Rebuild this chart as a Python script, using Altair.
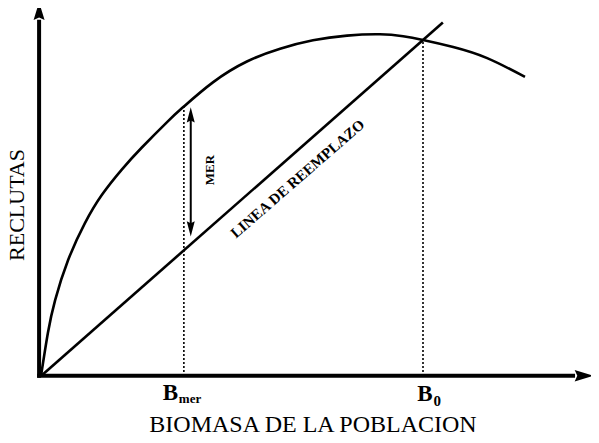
import altair as alt
import pandas as pd

# Stock-recruitment curve (biomass, recruits; B0 = 100)
biomasa = [0, 1.8, 3.7, 7.1, 11.5, 16.0, 21.2, 26.4, 33.2, 37.4, 45.0, 53.9,
           62.6, 71.2, 80.1, 88.7, 94.8, 100.0, 107.9, 116.8, 126.7]
reclutas = [0, 12.8, 22.6, 34.5, 45.5, 54.0, 61.5, 68.0, 75.8, 80.2, 87.4, 93.6,
            97.4, 99.9, 101.3, 101.7, 101.1, 100.0, 97.9, 94.6, 89.0]
# Replacement line (R = B)
reemplazo_b = [0, 105.2]
reemplazo_r = [0, 105.2]
# Reference biomasses
b_mer, r_mer = 37.4, 80.2
b_0, r_0 = 100.0, 100.0
# MER arrow
mer_b = 39.2
mer_top, mer_bottom = 80.0, 41.5
# Axis extents
eje_x_fin, eje_y_fin = 139.8, 106.0

FONT = "Liberation Serif"
X = alt.Scale(domain=[0, 100], range=[33, 415])
Y = alt.Scale(domain=[0, 100], range=[368, 32])

def xe(f="b"):
    return alt.X(f"{f}:Q", scale=X, axis=None)

def ye(f="r"):
    return alt.Y(f"{f}:Q", scale=Y, axis=None)

curve_df = pd.DataFrame({"b": biomasa, "r": reclutas, "o": range(len(biomasa))})
curve = alt.Chart(curve_df).mark_line(color="black", strokeWidth=2.6, interpolate="natural").encode(
    x=xe(), y=ye(), order="o:Q")

line_df = pd.DataFrame({"b": reemplazo_b, "r": reemplazo_r})
line = alt.Chart(line_df).mark_line(color="black", strokeWidth=2.6).encode(x=xe(), y=ye())

dots_df = pd.DataFrame({"b": [b_mer, b_0], "r": [0, 0], "r2": [r_mer, r_0]})
dots = alt.Chart(dots_df).mark_rule(color="black", strokeWidth=1.6, strokeDash=[2, 2]).encode(
    x=xe(), y=ye(), y2="r2:Q")

axes_df = pd.DataFrame({"b": [-0.5, -1.0], "b2": [-0.5, eje_x_fin], "r": [-0.5, 0.1], "r2": [eje_y_fin, 0.1]})
axes = alt.Chart(axes_df).mark_rule(color="black", strokeWidth=4).encode(
    x=xe(), x2="b2:Q", y=ye(), y2="r2:Q")

up_path = "M0,-1L0.55,0.8L0,0.55L-0.55,0.8Z"
right_path = "M1,0L-0.8,-0.55L-0.55,0L-0.8,0.55Z"
down_path = "M0,1L0.5,-0.9L0,-0.65L-0.5,-0.9Z"
up_small = "M0,-1L0.5,0.9L0,0.65L-0.5,0.9Z"

yhead = alt.Chart(pd.DataFrame({"b": [-0.5], "r": [108.3]})).mark_point(
    shape=up_path, filled=True, color="black", size=400, opacity=1).encode(x=xe(), y=ye())
xhead = alt.Chart(pd.DataFrame({"b": [141.9], "r": [0.1]})).mark_point(
    shape=right_path, filled=True, color="black", size=441, opacity=1).encode(x=xe(), y=ye())

mer_df = pd.DataFrame({"b": [mer_b], "r": [mer_top - 2], "r2": [mer_bottom + 2]})
mer_line = alt.Chart(mer_df).mark_rule(color="black", strokeWidth=2).encode(x=xe(), y=ye(), y2="r2:Q")
mer_up = alt.Chart(pd.DataFrame({"b": [mer_b], "r": [mer_top - 2.4]})).mark_point(
    shape=up_small, filled=True, color="black", size=256, opacity=1).encode(x=xe(), y=ye())
mer_down = alt.Chart(pd.DataFrame({"b": [mer_b], "r": [mer_bottom + 2.4]})).mark_point(
    shape=down_path, filled=True, color="black", size=256, opacity=1).encode(x=xe(), y=ye())

mer_txt = alt.Chart(pd.DataFrame({"b": [44.2], "r": [61.3], "t": ["MER"]})).mark_text(
    font=FONT, fontSize=13, fontWeight="bold", angle=270, align="center", baseline="middle"
).encode(x=xe(), y=ye(), text="t:N")

rep_txt = alt.Chart(pd.DataFrame({"b": [68.0], "r": [57.6], "t": ["LINEA DE REEMPLAZO"]})).mark_text(
    font=FONT, fontSize=15, fontWeight="bold", angle=319, align="center", baseline="alphabetic"
).encode(x=xe(), y=ye(), text="t:N")

b_mer_letter = alt.Chart(pd.DataFrame({"b": [b_mer], "t": ["B"]})).mark_text(
    font=FONT, fontSize=23, fontWeight="bold", align="center", baseline="alphabetic", dx=-13.5
).encode(x=xe(), y=alt.value(391.5), text="t:N")
b_0_letter = alt.Chart(pd.DataFrame({"b": [b_0], "t": ["B"]})).mark_text(
    font=FONT, fontSize=23, fontWeight="bold", align="center", baseline="alphabetic", dx=2
).encode(x=xe(), y=alt.value(392.5), text="t:N")

sub_mer = alt.Chart(pd.DataFrame({"b": [b_mer], "t": ["mer"]})).mark_text(
    font=FONT, fontSize=13, fontWeight="bold", align="left", baseline="alphabetic", dx=-5
).encode(x=xe(), y=alt.value(395), text="t:N")
sub_0 = alt.Chart(pd.DataFrame({"b": [b_0], "t": ["0"]})).mark_text(
    font=FONT, fontSize=15, fontWeight="bold", align="left", baseline="alphabetic", dx=10.5
).encode(x=xe(), y=alt.value(398), text="t:N")

ytitle = alt.Chart(pd.DataFrame({"t": ["RECLUTAS"]})).mark_text(
    font=FONT, fontSize=22, angle=270, align="center", baseline="alphabetic"
).encode(x=alt.value(16), y=alt.value(197), text="t:N")
xtitle = alt.Chart(pd.DataFrame({"t": ["BIOMASA DE LA POBLACION"]})).mark_text(
    font=FONT, fontSize=24, align="center", baseline="alphabetic"
).encode(x=alt.value(305), y=alt.value(424), text="t:N")

chart = alt.layer(
    curve, line, dots, axes, yhead, xhead, mer_line, mer_up, mer_down, mer_txt, rep_txt,
    b_mer_letter, b_0_letter, sub_mer, sub_0, ytitle, xtitle
).properties(
    width=583, height=427, autosize="none", padding=0, background="white"
).configure_view(stroke=None)

chart.save("out.html", embed_options={"renderer": "svg", "actions": False})
